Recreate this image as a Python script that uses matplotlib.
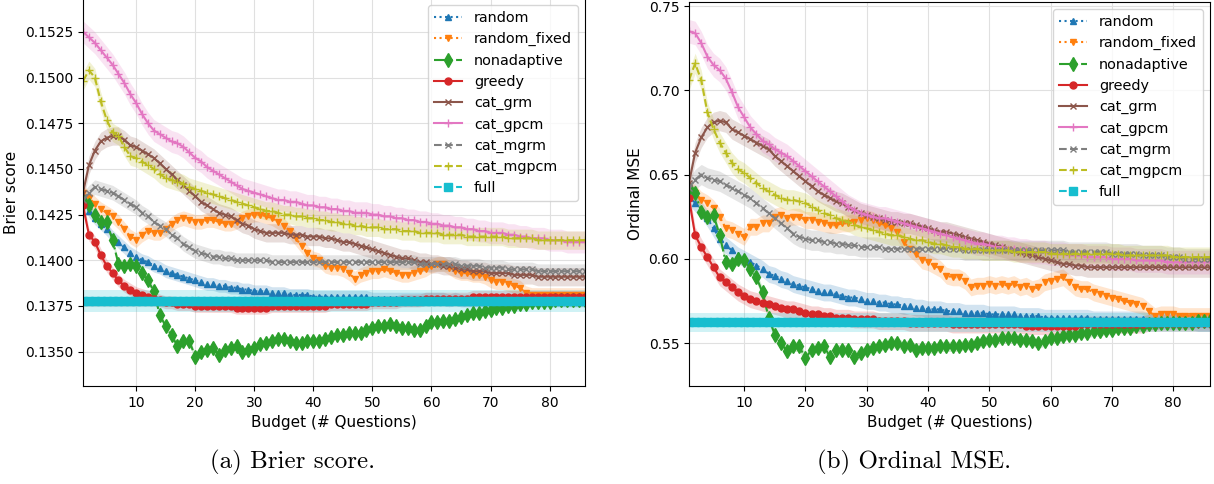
import numpy as np
import matplotlib.pyplot as plt

budget = np.arange(1, 87)

methods = ['random', 'random_fixed', 'nonadaptive', 'greedy', 'cat_grm',
           'cat_gpcm', 'cat_mgrm', 'cat_mgpcm', 'full']

# ---- Brier score (left panel) ----
brier_random = [
    0.1433, 0.1427, 0.1423, 0.1420, 0.1417, 0.1413, 0.1410, 0.1407, 0.1404, 0.1402,
    0.1400, 0.1399, 0.1397, 0.1396, 0.1394, 0.1393, 0.1392, 0.1391, 0.1390, 0.1389,
    0.1388, 0.1387, 0.1387, 0.1386, 0.1386, 0.1385, 0.1385, 0.1384, 0.1384, 0.1383,
    0.1383, 0.1383, 0.1382, 0.1382, 0.1382, 0.1381, 0.1381, 0.1381, 0.1381, 0.1380,
    0.1380, 0.1380, 0.1380, 0.1380, 0.1380, 0.1380, 0.1380, 0.1380, 0.1380, 0.1379,
    0.1379, 0.1379, 0.1379, 0.1379, 0.1379, 0.1379, 0.1379, 0.1379, 0.1379, 0.1379,
    0.1379, 0.1379, 0.1378, 0.1379, 0.1378, 0.1378, 0.1378, 0.1378, 0.1378, 0.1378,
    0.1378, 0.1378, 0.1378, 0.1378, 0.1378, 0.1378, 0.1378, 0.1378, 0.1378, 0.1378,
    0.1378, 0.1378, 0.1378, 0.1378, 0.1378, 0.1378]
brier_random_fixed = [
    0.1437, 0.1434, 0.1431, 0.1428, 0.1426, 0.1424, 0.1421, 0.1417, 0.1413, 0.1411,
    0.1414, 0.1416, 0.1415, 0.1415, 0.1417, 0.1420, 0.1422, 0.1423, 0.1422, 0.1421,
    0.1421, 0.1422, 0.1422, 0.1421, 0.1420, 0.1420, 0.1421, 0.1423, 0.1424, 0.1425,
    0.1425, 0.1424, 0.1423, 0.1421, 0.1419, 0.1416, 0.1412, 0.1408, 0.1404, 0.1401,
    0.1400, 0.1397, 0.1396, 0.1396, 0.1395, 0.1393, 0.1390, 0.1392, 0.1393, 0.1394,
    0.1394, 0.1395, 0.1394, 0.1393, 0.1392, 0.1392, 0.1393, 0.1394, 0.1395, 0.1397,
    0.1398, 0.1398, 0.1396, 0.1394, 0.1393, 0.1393, 0.1392, 0.1392, 0.1391, 0.1389,
    0.1388, 0.1388, 0.1387, 0.1386, 0.1385, 0.1382, 0.1381, 0.1381, 0.1381, 0.1381,
    0.1381, 0.1381, 0.1381, 0.1381, 0.1381, 0.1381]
brier_nonadaptive = [
    0.1433, 0.1430, 0.1425, 0.1421, 0.1421, 0.1411, 0.1398, 0.1397, 0.1398, 0.1397,
    0.1393, 0.1389, 0.1383, 0.1370, 0.1364, 0.1359, 0.1353, 0.1356, 0.1356, 0.1347,
    0.1350, 0.1351, 0.1352, 0.1348, 0.1351, 0.1352, 0.1353, 0.1350, 0.1351, 0.1352,
    0.1354, 0.1355, 0.1356, 0.1357, 0.1357, 0.1356, 0.1355, 0.1355, 0.1356, 0.1356,
    0.1356, 0.1357, 0.1358, 0.1359, 0.1359, 0.1360, 0.1360, 0.1360, 0.1362, 0.1363,
    0.1364, 0.1364, 0.1365, 0.1364, 0.1363, 0.1363, 0.1362, 0.1362, 0.1364, 0.1366,
    0.1366, 0.1367, 0.1367, 0.1368, 0.1369, 0.1370, 0.1371, 0.1371, 0.1372, 0.1373,
    0.1374, 0.1374, 0.1375, 0.1375, 0.1376, 0.1376, 0.1377, 0.1377, 0.1377, 0.1377,
    0.1378, 0.1378, 0.1378, 0.1378, 0.1378, 0.1378]
brier_greedy = [
    0.1430, 0.1414, 0.1410, 0.1403, 0.1397, 0.1393, 0.1389, 0.1386, 0.1384, 0.1382,
    0.1381, 0.1380, 0.1379, 0.1378, 0.1377, 0.1377, 0.1376, 0.1376, 0.1376, 0.1375,
    0.1375, 0.1375, 0.1375, 0.1375, 0.1375, 0.1375, 0.1374, 0.1374, 0.1374, 0.1374,
    0.1374, 0.1374, 0.1375, 0.1375, 0.1375, 0.1375, 0.1375, 0.1375, 0.1375, 0.1375,
    0.1375, 0.1375, 0.1376, 0.1376, 0.1376, 0.1376, 0.1376, 0.1376, 0.1376, 0.1377,
    0.1377, 0.1377, 0.1377, 0.1377, 0.1378, 0.1378, 0.1378, 0.1378, 0.1379, 0.1379,
    0.1379, 0.1379, 0.1379, 0.1379, 0.1379, 0.1379, 0.1380, 0.1380, 0.1380, 0.1380,
    0.1380, 0.1380, 0.1380, 0.1380, 0.1380, 0.1380, 0.1380, 0.1380, 0.1380, 0.1380,
    0.1380, 0.1380, 0.1380, 0.1380, 0.1380, 0.1380]
brier_cat_grm = [
    0.1437, 0.1452, 0.1460, 0.1465, 0.1467, 0.1468, 0.1468, 0.1466, 0.1463, 0.1462,
    0.1460, 0.1458, 0.1456, 0.1453, 0.1450, 0.1447, 0.1444, 0.1441, 0.1438, 0.1435,
    0.1432, 0.1430, 0.1428, 0.1426, 0.1425, 0.1424, 0.1422, 0.1420, 0.1419, 0.1417,
    0.1416, 0.1415, 0.1415, 0.1415, 0.1415, 0.1414, 0.1414, 0.1414, 0.1413, 0.1413,
    0.1413, 0.1412, 0.1412, 0.1411, 0.1410, 0.1410, 0.1409, 0.1408, 0.1407, 0.1406,
    0.1405, 0.1404, 0.1403, 0.1402, 0.1401, 0.1401, 0.1400, 0.1399, 0.1399, 0.1398,
    0.1398, 0.1397, 0.1397, 0.1396, 0.1395, 0.1395, 0.1394, 0.1394, 0.1394, 0.1393,
    0.1393, 0.1393, 0.1393, 0.1392, 0.1392, 0.1392, 0.1392, 0.1391, 0.1391, 0.1391,
    0.1391, 0.1391, 0.1391, 0.1391, 0.1391, 0.1391]
brier_cat_gpcm = [
    0.1525, 0.1522, 0.1519, 0.1515, 0.1511, 0.1507, 0.1502, 0.1497, 0.1491, 0.1486,
    0.1480, 0.1475, 0.1471, 0.1469, 0.1467, 0.1465, 0.1464, 0.1462, 0.1459, 0.1456,
    0.1454, 0.1451, 0.1449, 0.1447, 0.1445, 0.1443, 0.1441, 0.1439, 0.1438, 0.1437,
    0.1436, 0.1435, 0.1434, 0.1433, 0.1433, 0.1432, 0.1432, 0.1431, 0.1430, 0.1430,
    0.1429, 0.1429, 0.1428, 0.1428, 0.1427, 0.1427, 0.1426, 0.1426, 0.1426, 0.1425,
    0.1425, 0.1424, 0.1424, 0.1423, 0.1423, 0.1422, 0.1422, 0.1421, 0.1421, 0.1420,
    0.1420, 0.1419, 0.1419, 0.1418, 0.1418, 0.1417, 0.1417, 0.1416, 0.1416, 0.1415,
    0.1415, 0.1415, 0.1414, 0.1414, 0.1413, 0.1413, 0.1412, 0.1412, 0.1412, 0.1411,
    0.1411, 0.1411, 0.1410, 0.1410, 0.1410, 0.1410]
brier_cat_mgrm = [
    0.1433, 0.1437, 0.1440, 0.1439, 0.1438, 0.1437, 0.1435, 0.1433, 0.1431, 0.1429,
    0.1426, 0.1424, 0.1421, 0.1419, 0.1417, 0.1414, 0.1412, 0.1409, 0.1407, 0.1405,
    0.1404, 0.1403, 0.1402, 0.1402, 0.1401, 0.1401, 0.1400, 0.1400, 0.1400, 0.1400,
    0.1400, 0.1400, 0.1399, 0.1399, 0.1399, 0.1399, 0.1399, 0.1399, 0.1399, 0.1399,
    0.1399, 0.1399, 0.1399, 0.1399, 0.1399, 0.1399, 0.1399, 0.1399, 0.1399, 0.1399,
    0.1399, 0.1399, 0.1399, 0.1399, 0.1399, 0.1399, 0.1399, 0.1398, 0.1398, 0.1398,
    0.1398, 0.1398, 0.1398, 0.1398, 0.1397, 0.1397, 0.1397, 0.1397, 0.1396, 0.1396,
    0.1396, 0.1396, 0.1395, 0.1395, 0.1395, 0.1395, 0.1395, 0.1394, 0.1394, 0.1394,
    0.1394, 0.1394, 0.1394, 0.1394, 0.1394, 0.1394]
brier_cat_mgpcm = [
    0.1498, 0.1504, 0.1500, 0.1487, 0.1477, 0.1470, 0.1468, 0.1462, 0.1457, 0.1456,
    0.1454, 0.1452, 0.1450, 0.1447, 0.1445, 0.1444, 0.1443, 0.1442, 0.1440, 0.1439,
    0.1438, 0.1437, 0.1436, 0.1435, 0.1434, 0.1433, 0.1432, 0.1431, 0.1430, 0.1429,
    0.1428, 0.1427, 0.1427, 0.1426, 0.1425, 0.1425, 0.1424, 0.1424, 0.1423, 0.1423,
    0.1422, 0.1422, 0.1421, 0.1421, 0.1420, 0.1420, 0.1419, 0.1419, 0.1418, 0.1418,
    0.1418, 0.1417, 0.1417, 0.1417, 0.1416, 0.1416, 0.1416, 0.1415, 0.1415, 0.1415,
    0.1415, 0.1414, 0.1414, 0.1414, 0.1414, 0.1413, 0.1413, 0.1413, 0.1413, 0.1413,
    0.1413, 0.1413, 0.1412, 0.1412, 0.1412, 0.1412, 0.1412, 0.1411, 0.1411, 0.1411,
    0.1411, 0.1411, 0.1411, 0.1411, 0.1411, 0.1411]
brier_full = 0.13775

# half-width of shaded bands, one per method
brier_err = [0.00035, 0.0004, 0.0002, 0.00035, 0.0005, 0.0006, 0.0004, 0.0005, 0.0006]

# ---- Ordinal MSE (right panel) ----
mse_random = [
    0.637, 0.633, 0.629, 0.624, 0.618, 0.612, 0.608, 0.605, 0.602, 0.600,
    0.598, 0.596, 0.594, 0.591, 0.590, 0.588, 0.587, 0.585, 0.584, 0.583,
    0.582, 0.581, 0.580, 0.580, 0.579, 0.578, 0.577, 0.577, 0.576, 0.575,
    0.575, 0.574, 0.574, 0.573, 0.573, 0.572, 0.572, 0.571, 0.571, 0.570,
    0.570, 0.570, 0.569, 0.569, 0.569, 0.568, 0.568, 0.568, 0.568, 0.567,
    0.567, 0.567, 0.567, 0.567, 0.566, 0.566, 0.566, 0.566, 0.565, 0.565,
    0.565, 0.565, 0.565, 0.565, 0.565, 0.565, 0.564, 0.564, 0.564, 0.564,
    0.564, 0.564, 0.564, 0.564, 0.564, 0.563, 0.563, 0.563, 0.563, 0.563,
    0.563, 0.563, 0.563, 0.562, 0.562, 0.562]
mse_random_fixed = [
    0.641, 0.639, 0.635, 0.633, 0.630, 0.625, 0.618, 0.617, 0.615, 0.613,
    0.619, 0.619, 0.621, 0.621, 0.625, 0.626, 0.624, 0.625, 0.625, 0.623,
    0.623, 0.622, 0.621, 0.620, 0.620, 0.621, 0.621, 0.622, 0.623, 0.624,
    0.623, 0.621, 0.620, 0.618, 0.616, 0.610, 0.606, 0.603, 0.599, 0.598,
    0.596, 0.594, 0.590, 0.589, 0.589, 0.587, 0.583, 0.584, 0.584, 0.585,
    0.584, 0.585, 0.584, 0.585, 0.583, 0.584, 0.582, 0.583, 0.586, 0.587,
    0.588, 0.589, 0.586, 0.583, 0.582, 0.582, 0.580, 0.579, 0.578, 0.577,
    0.576, 0.575, 0.574, 0.573, 0.572, 0.569, 0.566, 0.567, 0.567, 0.567,
    0.566, 0.566, 0.566, 0.566, 0.566, 0.566]
mse_nonadaptive = [
    0.642, 0.639, 0.628, 0.625, 0.626, 0.614, 0.598, 0.597, 0.600, 0.599,
    0.594, 0.589, 0.580, 0.565, 0.555, 0.550, 0.545, 0.548, 0.548, 0.541,
    0.546, 0.547, 0.548, 0.542, 0.546, 0.546, 0.546, 0.542, 0.544, 0.546,
    0.547, 0.548, 0.549, 0.550, 0.550, 0.548, 0.549, 0.546, 0.547, 0.547,
    0.547, 0.548, 0.548, 0.548, 0.548, 0.549, 0.549, 0.550, 0.551, 0.552,
    0.552, 0.553, 0.553, 0.553, 0.552, 0.552, 0.551, 0.550, 0.551, 0.553,
    0.553, 0.554, 0.555, 0.555, 0.556, 0.556, 0.557, 0.557, 0.558, 0.558,
    0.559, 0.559, 0.559, 0.560, 0.560, 0.561, 0.561, 0.562, 0.562, 0.562,
    0.562, 0.562, 0.562, 0.563, 0.563, 0.563]
mse_greedy = [
    0.636, 0.614, 0.607, 0.601, 0.595, 0.589, 0.586, 0.583, 0.580, 0.578,
    0.576, 0.575, 0.574, 0.573, 0.572, 0.571, 0.570, 0.570, 0.569, 0.568,
    0.567, 0.567, 0.566, 0.566, 0.565, 0.565, 0.565, 0.564, 0.564, 0.564,
    0.564, 0.563, 0.563, 0.563, 0.563, 0.563, 0.562, 0.562, 0.562, 0.562,
    0.562, 0.562, 0.562, 0.561, 0.561, 0.561, 0.561, 0.561, 0.561, 0.561,
    0.561, 0.561, 0.561, 0.561, 0.561, 0.560, 0.560, 0.560, 0.560, 0.560,
    0.560, 0.560, 0.560, 0.560, 0.561, 0.561, 0.561, 0.561, 0.561, 0.561,
    0.561, 0.561, 0.561, 0.561, 0.561, 0.562, 0.562, 0.562, 0.562, 0.562,
    0.562, 0.562, 0.562, 0.562, 0.562, 0.562]
mse_cat_grm = [
    0.645, 0.663, 0.672, 0.678, 0.681, 0.682, 0.681, 0.677, 0.675, 0.673,
    0.671, 0.669, 0.667, 0.665, 0.661, 0.658, 0.655, 0.652, 0.649, 0.646,
    0.643, 0.640, 0.638, 0.636, 0.634, 0.633, 0.631, 0.629, 0.627, 0.626,
    0.625, 0.624, 0.623, 0.622, 0.622, 0.621, 0.621, 0.620, 0.619, 0.618,
    0.617, 0.616, 0.616, 0.615, 0.614, 0.613, 0.612, 0.611, 0.610, 0.609,
    0.608, 0.607, 0.606, 0.605, 0.604, 0.603, 0.602, 0.601, 0.600, 0.599,
    0.598, 0.597, 0.597, 0.596, 0.596, 0.595, 0.595, 0.595, 0.595, 0.595,
    0.595, 0.595, 0.595, 0.595, 0.595, 0.595, 0.595, 0.595, 0.595, 0.595,
    0.595, 0.595, 0.595, 0.595, 0.595, 0.595]
mse_cat_gpcm = [
    0.735, 0.734, 0.728, 0.720, 0.715, 0.712, 0.707, 0.699, 0.690, 0.684,
    0.678, 0.674, 0.670, 0.668, 0.665, 0.663, 0.661, 0.658, 0.655, 0.652,
    0.649, 0.646, 0.643, 0.640, 0.637, 0.634, 0.631, 0.629, 0.627, 0.626,
    0.625, 0.624, 0.624, 0.623, 0.622, 0.621, 0.620, 0.619, 0.618, 0.617,
    0.616, 0.615, 0.614, 0.613, 0.612, 0.611, 0.610, 0.609, 0.609, 0.608,
    0.607, 0.607, 0.606, 0.606, 0.605, 0.605, 0.604, 0.604, 0.604, 0.603,
    0.603, 0.603, 0.602, 0.602, 0.602, 0.601, 0.601, 0.601, 0.601, 0.600,
    0.600, 0.600, 0.600, 0.599, 0.599, 0.599, 0.599, 0.599, 0.598, 0.598,
    0.598, 0.598, 0.598, 0.598, 0.598, 0.598]
mse_cat_mgrm = [
    0.642, 0.647, 0.650, 0.648, 0.647, 0.646, 0.644, 0.642, 0.640, 0.638,
    0.636, 0.633, 0.630, 0.627, 0.624, 0.621, 0.618, 0.615, 0.613, 0.612,
    0.611, 0.611, 0.610, 0.610, 0.609, 0.609, 0.608, 0.608, 0.607, 0.607,
    0.607, 0.607, 0.606, 0.606, 0.606, 0.606, 0.606, 0.606, 0.606, 0.606,
    0.606, 0.606, 0.606, 0.606, 0.606, 0.605, 0.605, 0.605, 0.605, 0.605,
    0.605, 0.605, 0.605, 0.605, 0.605, 0.605, 0.605, 0.605, 0.605, 0.605,
    0.605, 0.605, 0.604, 0.604, 0.604, 0.604, 0.604, 0.604, 0.604, 0.603,
    0.603, 0.603, 0.603, 0.603, 0.602, 0.602, 0.602, 0.602, 0.601, 0.601,
    0.601, 0.600, 0.600, 0.600, 0.600, 0.600]
mse_cat_mgpcm = [
    0.706, 0.716, 0.706, 0.687, 0.677, 0.669, 0.663, 0.657, 0.653, 0.651,
    0.648, 0.645, 0.642, 0.640, 0.638, 0.636, 0.635, 0.635, 0.634, 0.633,
    0.631, 0.629, 0.627, 0.626, 0.624, 0.623, 0.622, 0.620, 0.619, 0.618,
    0.617, 0.616, 0.615, 0.614, 0.614, 0.613, 0.612, 0.611, 0.611, 0.610,
    0.609, 0.609, 0.608, 0.607, 0.607, 0.606, 0.606, 0.606, 0.605, 0.605,
    0.605, 0.605, 0.605, 0.604, 0.604, 0.604, 0.604, 0.604, 0.604, 0.603,
    0.603, 0.603, 0.603, 0.603, 0.603, 0.603, 0.603, 0.603, 0.603, 0.603,
    0.603, 0.602, 0.602, 0.602, 0.602, 0.602, 0.602, 0.602, 0.602, 0.601,
    0.601, 0.601, 0.601, 0.601, 0.601, 0.601]
mse_full = 0.5623

mse_err = [0.005, 0.005, 0.003, 0.005, 0.006, 0.007, 0.006, 0.006, 0.0055]

colors = ['tab:blue', 'tab:orange', 'tab:green', 'tab:red', 'tab:brown',
          'tab:pink', 'tab:gray', 'tab:olive', 'tab:cyan']
linestyles = [':', ':', '-.', '-', '-', '-', '--', '--', '--']
markers = ['^', 'v', 'd', 'o', 'x', '+', 'x', '+', 's']
msizes = [5, 5, 7.5, 5, 5, 6, 5, 6, 6]


def draw_panel(ax, series, errs):
    for name, vals, err, c, ls, mk, ms in zip(methods, series, errs, colors,
                                              linestyles, markers, msizes):
        vals = np.asarray(vals) * np.ones(len(budget))
        ax.fill_between(budget, vals - err, vals + err, color=c, alpha=0.2,
                        linewidth=0)
        ax.plot(budget, vals, color=c, linestyle=ls, marker=mk,
                markersize=ms, linewidth=1.5, label=name)
    ax.set_xlim(1, 86)
    ax.set_xticks(range(10, 90, 10))
    ax.grid(True, color='#e0e0e0', linewidth=0.8)
    ax.set_axisbelow(True)
    ax.tick_params(labelsize=10)
    ax.set_xlabel('Budget (# Questions)', fontsize=11)
    ax.legend(loc='upper right', fontsize=10.4)


fig = plt.figure(figsize=(12.14, 4.84), dpi=100)

ax1 = fig.add_axes([83 / 1214, 98 / 484, 502 / 1214, 388 / 484])
draw_panel(ax1, [brier_random, brier_random_fixed, brier_nonadaptive,
                 brier_greedy, brier_cat_grm, brier_cat_gpcm, brier_cat_mgrm,
                 brier_cat_mgpcm, brier_full], brier_err)
ax1.set_ylim(0.13312, 0.15435)
ax1.set_yticks(np.arange(0.135, 0.1526, 0.0025))
ax1.yaxis.set_major_formatter(plt.FormatStrFormatter('%.4f'))
ax1.set_ylabel('Brier score', fontsize=11)

ax2 = fig.add_axes([689 / 1214, 98 / 484, 521 / 1214, 384 / 484])
draw_panel(ax2, [mse_random, mse_random_fixed, mse_nonadaptive, mse_greedy,
                 mse_cat_grm, mse_cat_gpcm, mse_cat_mgrm, mse_cat_mgpcm,
                 mse_full], mse_err)
ax2.set_ylim(0.5245, 0.7524)
ax2.set_yticks(np.arange(0.55, 0.751, 0.05))
ax2.yaxis.set_major_formatter(plt.FormatStrFormatter('%.2f'))
ax2.set_ylabel('Ordinal MSE', fontsize=11)

fig.text(293 / 1214, 1 - 462 / 484, '(a) Brier score.', ha='center',
         va='center', family='cmr10', fontsize=18)
fig.text(914 / 1214, 1 - 462 / 484, '(b) Ordinal MSE.', ha='center',
         va='center', family='cmr10', fontsize=18)

fig.savefig('out.png', dpi=100)
